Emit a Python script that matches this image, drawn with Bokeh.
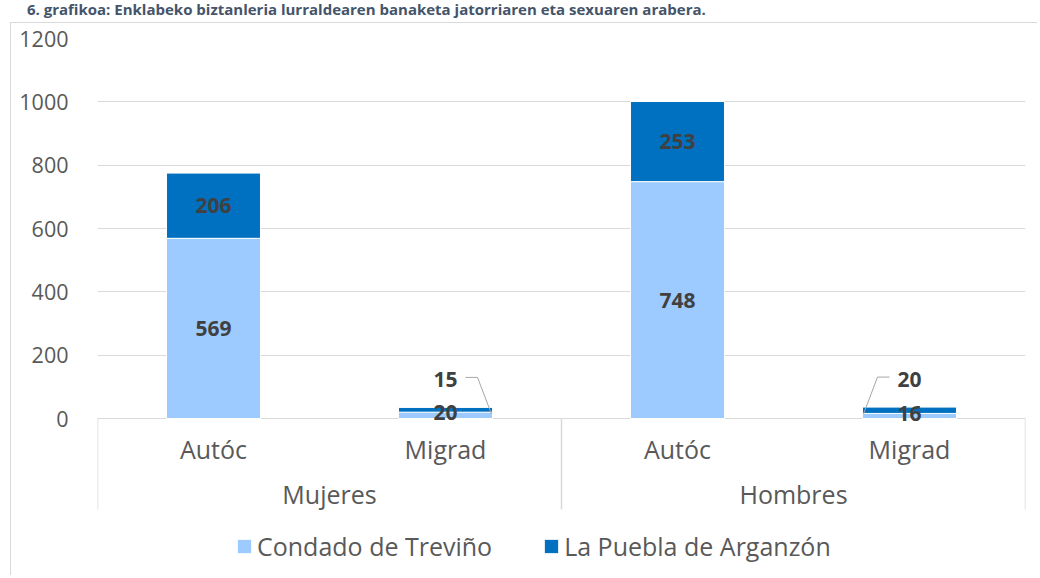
from bokeh.plotting import figure
from bokeh.models import (Range1d, FixedTicker, Legend, LegendItem,
                          ColumnDataSource, Div)
from bokeh.layouts import column
from bokeh.core.properties import value
from bokeh.embed import file_html
from bokeh.resources import INLINE

# ---------------- data ----------------
title = "6. grafikoa: Enklabeko biztanleria lurraldearen banaketa jatorriaren eta sexuaren arabera."
groups = ["Mujeres", "Hombres"]
origins = ["Autóc", "Migrad"]
series = ["Condado de Treviño", "La Puebla de Arganzón"]
condado = [569, 20, 748, 16]
puebla = [206, 15, 253, 20]
y_ticks = [0, 200, 400, 600, 800, 1000, 1200]

# ---------------- layout (pixels) ----------------
W, H = 1027, 553
FL, FR, FT = 86, 13, 15
FW = W - FL - FR
FH = H - FT                  # frame runs to the bottom of the canvas
VAL_H = 380                  # pixels used by the value range 0..YMAX
n = len(groups) * len(origins)
YMAX = 1200
ux = n / FW                  # data units per pixel (x)
uy = YMAX / VAL_H            # data units per pixel (y)
YMIN = -(FH - VAL_H) * uy

LIGHT, DARK = "#9DCBFF", "#0070C0"
GRID = "#d9d9d9"
TXT = "#595959"
FONT = "Open Sans"

p = figure(width=W, height=H, x_range=Range1d(0, n), y_range=Range1d(YMIN, YMAX),
           output_backend="svg", toolbar_location=None, x_axis_location=None,
           min_border_left=FL, min_border_right=FR, min_border_top=FT,
           min_border_bottom=0, margin=(0, 0, 0, 10),
           styles={"border-left": "1px solid #d9d9d9", "border-top": "1px solid #d9d9d9"})
p.outline_line_color = None
p.background_fill_color = "white"
p.border_fill_color = "white"

# y axis
ya = p.yaxis[0]
ya.ticker = FixedTicker(ticks=y_ticks, minor_ticks=[])
ya.axis_line_color = None
ya.major_tick_line_color = None
ya.minor_tick_line_color = None
ya.major_label_standoff = 23
ya.major_label_text_font = FONT
ya.major_label_text_font_size = "21.5px"
ya.major_label_text_color = TXT
for g in p.grid:
    if g.dimension == 1:
        g.grid_line_color = GRID
        g.grid_line_width = 1
    else:
        g.visible = False

# ---------------- bars ----------------
xs = [i + 0.5 for i in range(n)]
total = [c + q for c, q in zip(condado, puebla)]
src = ColumnDataSource(dict(x=xs, condado=condado, puebla=puebla, total=total))
BW = 0.405
r1 = p.vbar(x="x", bottom=0, top="condado", width=BW, source=src,
            fill_color=LIGHT, line_color="white", line_width=1)
r2 = p.vbar(x="x", bottom="condado", top="total", width=BW, source=src,
            fill_color=DARK, line_color="white", line_width=1)

# ---------------- data labels ----------------
lab_x, lab_y, lab_t, lab_off = [], [], [], []
lead_xs, lead_ys = [], []
for i in range(n):
    c, q, t = condado[i], puebla[i], total[i]
    if q / YMAX > 0.05:
        lab_x += [xs[i], xs[i]]
        lab_y += [c / 2, c + q / 2]
        lab_t += [str(c), str(q)]
        lab_off += [0, 0]
    else:
        # small bar: condado inside, puebla lifted with a leader line
        lab_x += [xs[i], xs[i]]
        lab_y += [c, t]
        lab_t += [str(c), str(q)]
        lab_off += [0, -28]
        side = 1 if (i // len(origins)) == 0 else -1
        ly = t + 30 * uy
        lead_xs.append([xs[i] + side * 20 * ux, xs[i] + side * 32 * ux,
                        xs[i] + side * (BW / 2 - 1 * ux)])
        lead_ys.append([ly, ly, 4.5 * uy])

p.multi_line(xs=lead_xs, ys=lead_ys, line_color="#a6a6a6", line_width=1)
p.text(x=lab_x, y=lab_y, text=lab_t, y_offset=lab_off,
       text_font=value(FONT), text_font_style="bold", text_font_size="21px",
       text_color="#404040", text_align="center", text_baseline="middle")

# ---------------- two-level category axis ----------------
sub_labels = [o for g in groups for o in origins]
gx = [k * len(origins) + len(origins) / 2 for k in range(len(groups))]
sep = [k * len(origins) for k in range(len(groups) + 1)]

p.segment(x0=sep, y0=[0] * len(sep), x1=sep, y1=[-91 * uy] * len(sep),
          line_color=GRID, line_width=1.5)
p.text(x=xs, y=[-30 * uy] * len(xs), text=sub_labels,
       text_font=value(FONT), text_font_size="25px", text_color=TXT,
       text_align="center", text_baseline="middle")
p.text(x=gx, y=[-75 * uy] * len(gx), text=groups,
       text_font=value(FONT), text_font_size="25px", text_color=TXT,
       text_align="center", text_baseline="middle")

# ---------------- legend ----------------
legend = Legend(items=[LegendItem(label=series[0], renderers=[r1]),
                       LegendItem(label=series[1], renderers=[r2])],
                orientation="horizontal", location=(138, 13),
                glyph_width=18, glyph_height=18, label_standoff=4, spacing=50,
                padding=0, margin=0, border_line_color=None,
                background_fill_alpha=0,
                label_text_font=FONT, label_text_font_size="25px",
                label_text_color=TXT, label_text_baseline="alphabetic")
p.add_layout(legend, "center")

# ---------------- title ----------------
head = Div(text=title, width=1010, height=22, margin=(0, 0, 0, 27),
           styles={"font-family": "Open Sans", "font-weight": "bold",
                   "font-size": "15px", "line-height": "18px",
                   "color": "#44546A", "white-space": "nowrap",
                   "overflow": "hidden"})

page = column(head, p, spacing=0, margin=0)
open("out.html", "w").write(file_html(page, INLINE))
